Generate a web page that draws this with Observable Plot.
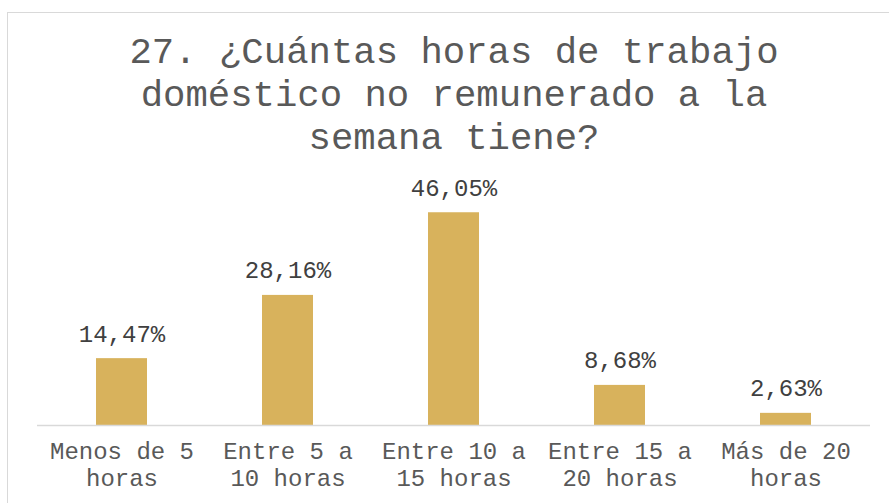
<!DOCTYPE html>
<html>
<head>
<meta charset="utf-8">
<script src="https://cdn.jsdelivr.net/npm/d3@7"></script>
<script src="https://cdn.jsdelivr.net/npm/@observablehq/plot@0.6"></script>
<style>
  html, body { margin: 0; padding: 0; background: #fff; }
  #wrap { position: relative; width: 889px; height: 503px; overflow: hidden; background: #fff; }
  #border { position: absolute; left: 7px; top: 12px; width: 900px; height: 520px; border: 1.5px solid #d9d9d9; box-sizing: border-box; }
  #title { position: absolute; left: 0; top: 32px; width: 908px; text-align: center; font-family: "Liberation Mono", monospace; font-size: 37.3px; line-height: 43px; color: #595959; white-space: pre-line; z-index: 2; }
  #chart { position: absolute; left: 0; top: 0; z-index: 1; }
</style>
</head>
<body>
<div id="wrap">
  <div id="border"></div>
  <div id="title"></div>
  <div id="chart"></div>
</div>
<script>
const titleLines = ["27. ¿Cuántas horas de trabajo", "doméstico no remunerado a la", "semana tiene?"];
const categories = ["Menos de 5 horas", "Entre 5 a 10 horas", "Entre 10 a 15 horas", "Entre 15 a 20 horas", "Más de 20 horas"];
const tickLabels = ["Menos de 5\nhoras", "Entre 5 a\n10 horas", "Entre 10 a\n15 horas", "Entre 15 a\n20 horas", "Más de 20\nhoras"];
const values = [14.47, 28.16, 46.05, 8.68, 2.63];
const valueLabels = ["14,47%", "28,16%", "46,05%", "8,68%", "2,63%"];

document.getElementById("title").textContent = titleLines.join("\n");

const data = categories.map((c, i) => ({cat: c, value: values[i], label: valueLabels[i], tick: tickLabels[i]}));
const tickMap = new Map(categories.map((c, i) => [c, tickLabels[i]]));

const chart = Plot.plot({
  width: 889,
  height: 503,
  marginLeft: 37,
  marginRight: 19,
  marginTop: 194,
  marginBottom: 78,
  style: {fontFamily: "Liberation Mono, monospace", background: "transparent"},
  x: {domain: categories, paddingInner: 0.69, paddingOuter: 0.345},
  y: {domain: [0, 50], axis: null},
  marks: [
    Plot.barY(data, {x: "cat", y: "value", fill: "#D8B25C"}),
    Plot.ruleY([0], {stroke: "#d9d9d9", strokeWidth: 1.5}),
    Plot.text(data, {x: "cat", y: "value", text: "label", lineAnchor: "bottom", dy: -17, fontSize: 24, fill: "#404040"}),
    Plot.axisX({tickSize: 0, tickPadding: 15, fontSize: 24, lineHeight: 1.1, fill: "#595959", tickFormat: d => tickMap.get(d), label: null})
  ]
});
document.getElementById("chart").appendChild(chart);
</script>
</body>
</html>
